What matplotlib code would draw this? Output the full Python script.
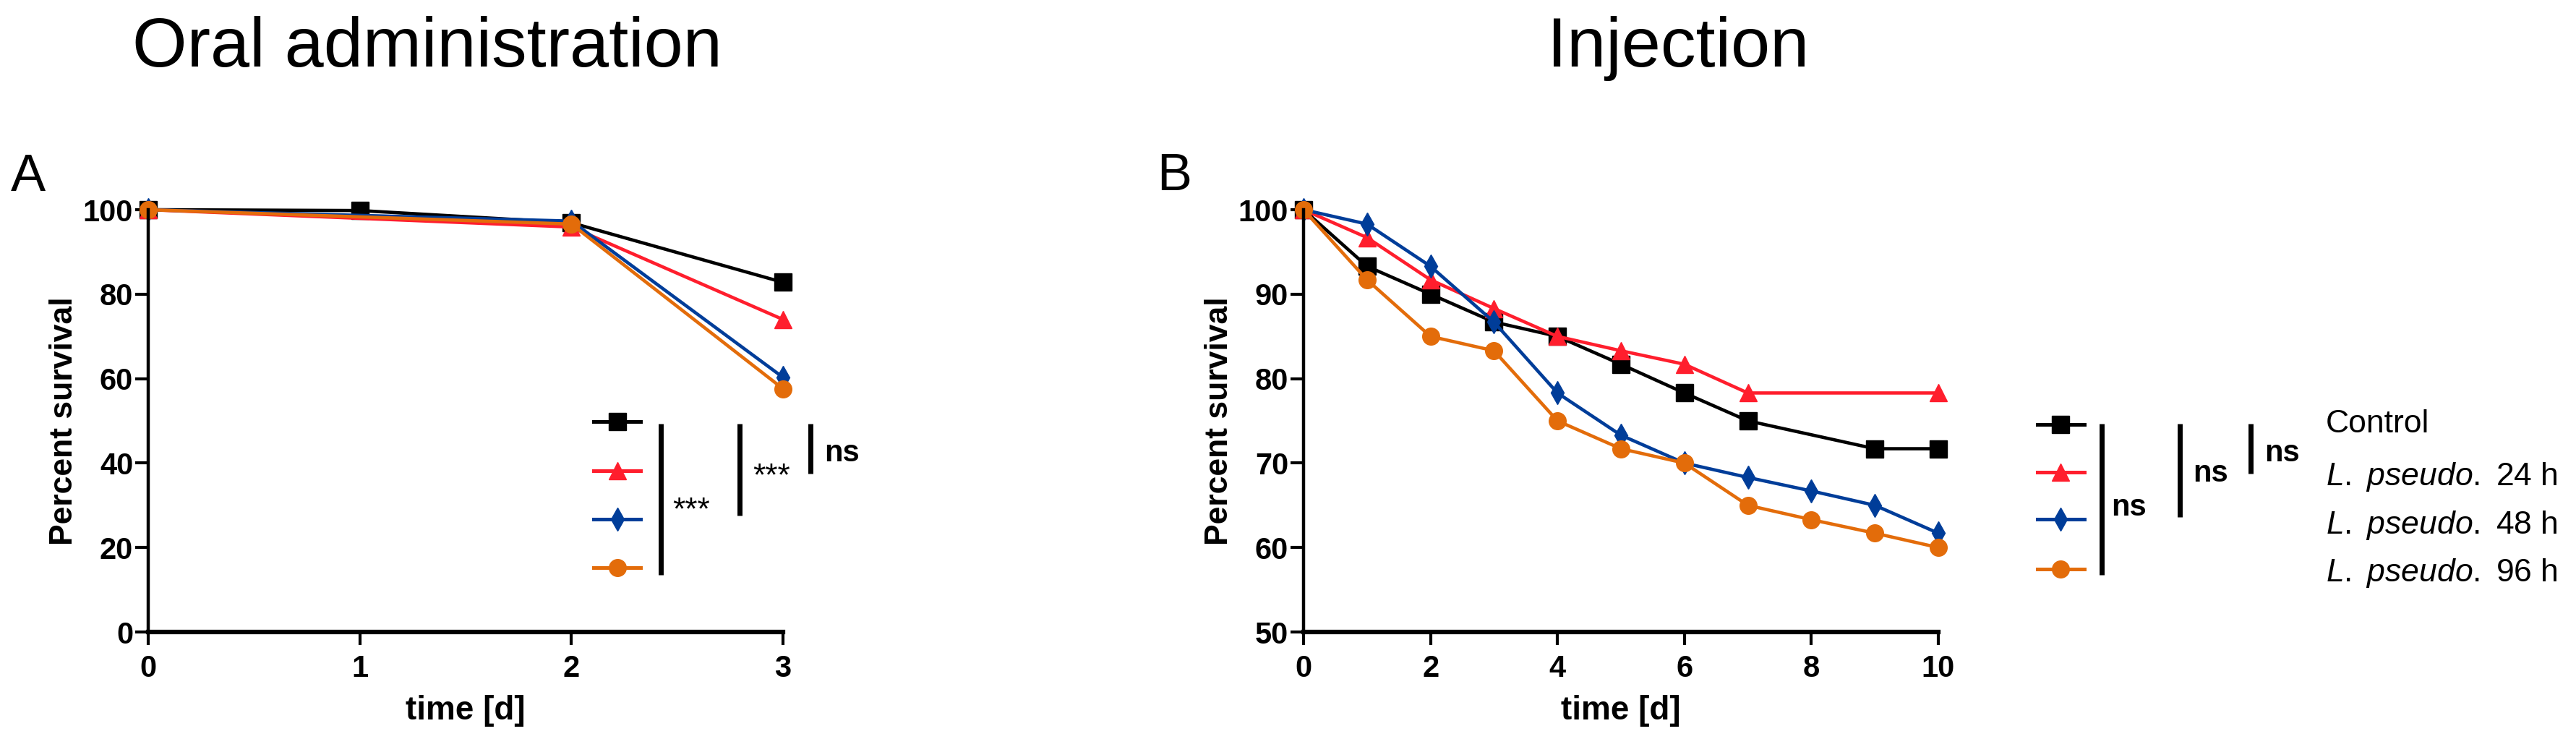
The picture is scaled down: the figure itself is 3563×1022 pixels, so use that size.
import matplotlib
matplotlib.use('Agg')
import matplotlib.pyplot as plt

plt.rcParams['font.family'] = ['Liberation Sans', 'DejaVu Sans']
plt.rcParams['mathtext.fontset'] = 'custom'
plt.rcParams['mathtext.rm'] = 'Liberation Sans'
plt.rcParams['mathtext.it'] = 'Liberation Sans:italic'

# Oral administration (panel A)
oral_days_ctrl = [0, 1, 2, 3]
oral_ctrl = [100, 99.8, 96.9, 82.8]
oral_days = [0, 2, 3]
oral_24h = [100, 95.9, 74.0]
oral_48h = [100, 97.3, 60.3]
oral_96h = [100, 96.6, 57.6]

# Injection (panel B)
inj_days_ctrl = [0, 1, 2, 3, 4, 5, 6, 7, 9, 10]
inj_ctrl = [100, 93.3, 90.0, 86.7, 85.0, 81.7, 78.3, 75.0, 71.7, 71.7]
inj_days_24h = [0, 1, 2, 3, 4, 5, 6, 7, 10]
inj_24h = [100, 96.7, 91.7, 88.3, 85.0, 83.3, 81.7, 78.3, 78.3]
inj_days = [0, 1, 2, 3, 4, 5, 6, 7, 8, 9, 10]
inj_48h = [100, 98.3, 93.3, 86.7, 78.3, 73.3, 70.0, 68.3, 66.7, 65.0, 61.7]
inj_96h = [100, 91.7, 85.0, 83.3, 75.0, 71.7, 70.0, 65.0, 63.3, 61.7, 60.0]

group_names = ['Control', r'$\mathit{L.\ pseudo.}$ 24 h',
               r'$\mathit{L.\ pseudo.}$ 48 h', r'$\mathit{L.\ pseudo.}$ 96 h']
colors = ['#000000', '#FF1E2D', '#003D99', '#E36C0A']
markers = ['s', '^', 'd', 'o']
msizes = [17, 17, 16, 17]

oral_sig = ['***', '***', 'ns']
inj_sig = ['ns', 'ns', 'ns']

TICK_FS = 30
LAB_FS = 32


def style_axes(ax, xlim, ylim, xticks, yticks):
    ax.set_xlim(*xlim)
    ax.set_ylim(*ylim)
    ax.set_xticks(xticks)
    ax.set_yticks(yticks)
    for s in ['top', 'right']:
        ax.spines[s].set_visible(False)
    ax.spines['left'].set_linewidth(3.2)
    ax.spines['bottom'].set_linewidth(4.5)
    ax.tick_params(direction='out', length=13, width=3, labelsize=TICK_FS)
    ax.tick_params(axis='x', pad=9)
    ax.tick_params(axis='y', pad=2)
    for lab in ax.get_xticklabels() + ax.get_yticklabels():
        lab.set_fontweight('bold')
    ax.set_xlabel('time [d]', fontsize=LAB_FS + 1, fontweight='bold', labelpad=12)
    ax.set_ylabel('Percent survival', fontsize=LAB_FS, fontweight='bold', labelpad=4)


def plot_series(ax, xs, ys):
    for x, y, c, m, ms in zip(xs, ys, colors, markers, msizes):
        ax.plot(x, y, color=c, lw=3.3, marker=m, ms=ms, mec=c, mew=1,
                clip_on=False)


def legend_glyphs(ax, x0, x1, rows):
    for fy, c, m, ms in zip(rows, colors, markers, msizes):
        ax.plot([x0, x1], [fy, fy], color=c, lw=3.6, transform=ax.transAxes,
                clip_on=False)
        ax.plot([(x0 + x1) / 2], [fy], color=c, marker=m, ms=ms, mec=c,
                transform=ax.transAxes, clip_on=False)


def sig_bars(ax, bars, labels, label_pos, weights, sizes):
    for (bx, y0, y1), lab, (tx, ty), w, fs in zip(bars, labels, label_pos,
                                                 weights, sizes):
        ax.plot([bx, bx], [y0, y1], color='black', lw=5,
                transform=ax.transAxes, clip_on=False, solid_capstyle='butt')
        ax.text(tx, ty, lab, transform=ax.transAxes, fontsize=fs,
                fontweight=w, ha='left', va='baseline')


fig = plt.figure(figsize=(35.63, 10.22), dpi=100)
axA = fig.add_axes([0.05754, 0.14481, 0.24642, 0.57143])
axB = fig.add_axes([0.50603, 0.14481, 0.24642, 0.57143])

# panel A
plot_series(axA, [oral_days_ctrl, oral_days, oral_days, oral_days],
            [oral_ctrl, oral_24h, oral_48h, oral_96h])
style_axes(axA, (0, 3), (0, 100), [0, 1, 2, 3], [0, 20, 40, 60, 80, 100])
legend_glyphs(axA, 0.7016, 0.7756, [0.4983, 0.3818, 0.2671, 0.1524])
sig_bars(axA,
         [(0.8075, 0.4932, 0.1353), (0.9317, 0.4932, 0.2757), (1.0433, 0.4932, 0.375)],
         oral_sig,
         [(0.8257, 0.267), (0.952, 0.3476), (1.065, 0.404)],
         ['normal', 'normal', 'bold'], [32, 32, 30])

# panel B
plot_series(axB, [inj_days_ctrl, inj_days_24h, inj_days, inj_days],
            [inj_ctrl, inj_24h, inj_48h, inj_96h])
style_axes(axB, (0, 10), (50, 100), [0, 2, 4, 6, 8, 10], [50, 60, 70, 80, 90, 100])
legend_glyphs(axB, 1.156, 1.230, [0.4914, 0.3784, 0.2671, 0.149])
sig_bars(axB,
         [(1.2574, 0.4932, 0.1353), (1.3804, 0.4932, 0.2723), (1.492, 0.4932, 0.375)],
         inj_sig,
         [(1.272, 0.2757), (1.401, 0.356), (1.5137, 0.404)],
         ['bold', 'bold', 'bold'], [30, 30, 30])
for name, fy in zip(group_names, [0.4726, 0.3476, 0.2329, 0.1199]):
    axB.text(1.6105, fy, name, transform=axB.transAxes, fontsize=32,
             ha='left', va='baseline')

# titles and panel letters
fig.text(0.1659, 0.91, 'Oral administration', fontsize=70, ha='center', va='baseline')
fig.text(0.6514, 0.91, 'Injection', fontsize=70, ha='center', va='baseline')
fig.text(0.0042, 0.7417, 'A', fontsize=52, ha='left', va='baseline')
fig.text(0.449, 0.7427, 'B', fontsize=52, ha='left', va='baseline')

fig.savefig('out.png', dpi=100)
